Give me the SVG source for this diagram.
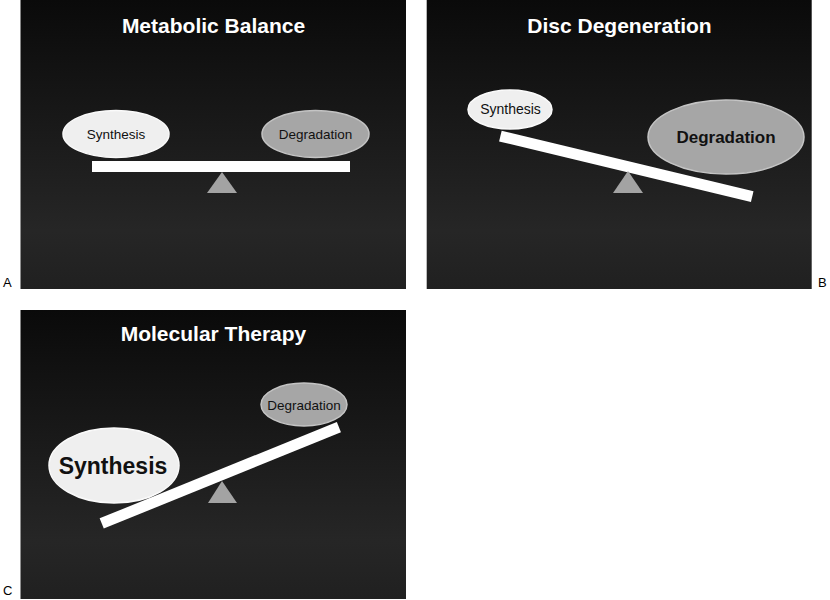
<svg xmlns="http://www.w3.org/2000/svg" width="830" height="600" viewBox="0 0 830 600">
<defs>
<linearGradient id="bg" x1="0" y1="0" x2="0" y2="1">
<stop offset="0" stop-color="#0a0a0a"/>
<stop offset="0.8" stop-color="#262626"/>
<stop offset="1" stop-color="#202020"/>
</linearGradient>
</defs>
<style>
.panel{fill:url(#bg)}
.title{font-family:"Liberation Sans",Arial,sans-serif;font-weight:bold;font-size:21px;fill:#ffffff;text-anchor:middle}
.lbl{font-family:"Liberation Sans",Arial,sans-serif;fill:#111111;text-anchor:middle}
.syn{fill:#efefef;stroke:#fafafa;stroke-width:1.5}
.deg{fill:#a6a6a6;stroke:#c4c4c4;stroke-width:1.5}
.beam{fill:#ffffff}
.fulcrum{fill:#a3a3a3}
.tag{font-family:"Liberation Sans",Arial,sans-serif;font-size:13px;fill:#000000}
</style>
<rect width="830" height="600" fill="#ffffff"/>

<g id="panelA">
<rect class="panel" x="20.5" y="0" width="385.5" height="289"/>
<text class="title" x="213.5" y="33">Metabolic Balance</text>
<g id="A-synthesis"><ellipse class="syn" cx="116" cy="134" rx="53" ry="23.5"/><text class="lbl" x="116" y="138.5" font-size="13.5">Synthesis</text></g>
<g id="A-degradation"><ellipse class="deg" cx="315.5" cy="134" rx="53.5" ry="23.5"/><text class="lbl" x="315.5" y="138.5" font-size="13.5">Degradation</text></g>
<g id="A-beam"><rect class="beam" x="92" y="161" width="258" height="11"/></g>
<g id="A-fulcrum"><polygon class="fulcrum" points="222,172 237,193 207,193"/></g>
<text class="tag" x="3" y="287">A</text>
</g>

<g id="panelB">
<rect class="panel" x="426.7" y="0" width="385" height="289"/>
<text class="title" x="619.5" y="33">Disc Degeneration</text>
<g id="B-synthesis"><ellipse class="syn" cx="510" cy="109.5" rx="42" ry="19.5"/><text class="lbl" x="510.5" y="114" font-size="14">Synthesis</text></g>
<g id="B-degradation"><ellipse class="deg" cx="726" cy="137" rx="78" ry="37"/><text class="lbl" x="726" y="143" font-size="17" font-weight="bold">Degradation</text></g>
<g id="B-beam"><rect class="beam" x="-129.5" y="-5.5" width="259" height="11" transform="translate(626.3 166.3) rotate(13.5)"/></g>
<g id="B-fulcrum"><polygon class="fulcrum" points="628,171 643,193 613,193"/></g>
<text class="tag" x="818" y="287">B</text>
</g>

<g id="panelC">
<rect class="panel" x="20.5" y="310" width="385.5" height="289"/>
<text class="title" x="213.5" y="341">Molecular Therapy</text>
<g id="C-degradation"><ellipse class="deg" cx="304" cy="404.5" rx="43" ry="21.5"/><text class="lbl" x="304" y="409.5" font-size="13.5">Degradation</text></g>
<g id="C-synthesis"><ellipse class="syn" cx="114" cy="465.5" rx="65" ry="37.5"/><text class="lbl" x="113" y="474" font-size="23" font-weight="bold">Synthesis</text></g>
<g id="C-beam"><rect class="beam" x="-128" y="-5.5" width="256" height="11" transform="translate(220.3 475.3) rotate(-22.1)"/></g>
<g id="C-fulcrum"><polygon class="fulcrum" points="222,481 237,503 208,503"/></g>
<text class="tag" x="3" y="595">C</text>
</g>
</svg>
